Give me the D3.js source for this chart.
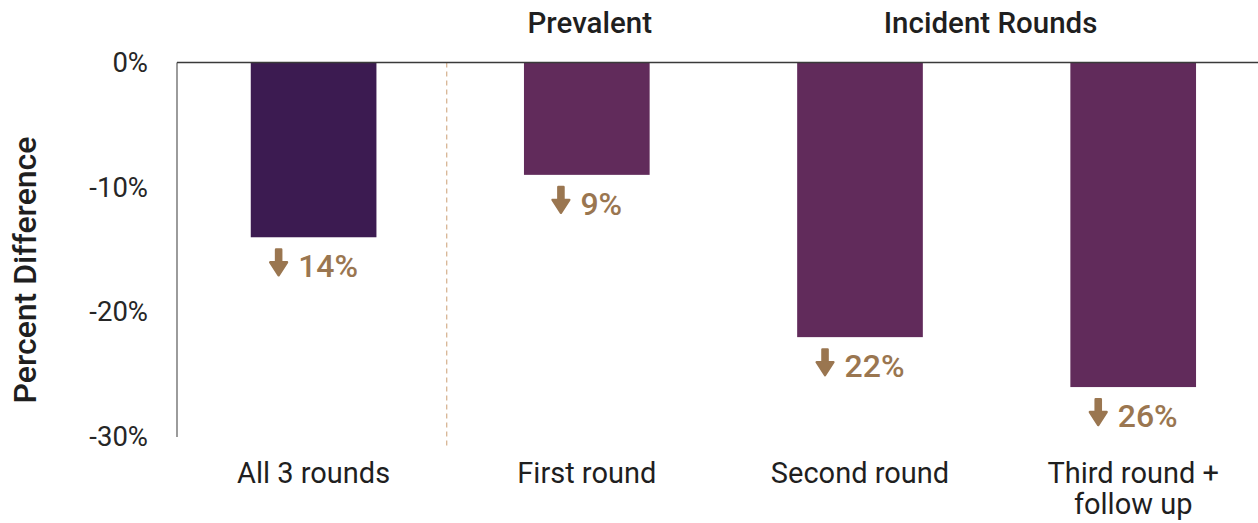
<!DOCTYPE html>
<html>
<head>
<meta charset="utf-8">
<script src="https://cdn.jsdelivr.net/npm/d3@7"></script>
<style>
  html, body { margin: 0; padding: 0; background: #fff; }
  svg { display: block; font-family: Roboto, "Noto Sans", sans-serif; }
</style>
</head>
<body>
<svg id="chart" width="1258" height="523"></svg>
<script>
// Percent difference by screening round
const categories = ["All 3 rounds", "First round", "Second round", "Third round +\nfollow up"];
const values = [-0.14, -0.09, -0.22, -0.26];
const barColors = ["#3c1b51", "#612b5b", "#612b5b", "#612b5b"];
const yTicks = [0, -0.10, -0.20, -0.30];
const groupHeaders = [
  { text: "Prevalent", from: 1, to: 1 },
  { text: "Incident Rounds", from: 2, to: 3 }
];

const svg = d3.select("#chart");
const W = 1258;
const plotLeft = 177, plotTop = 62.5, plotBottom = 437;
const labelColor = "#9a7650";

const x = d3.scaleBand()
  .domain(categories)
  .range([plotLeft, plotLeft + 4 * 273.2])
  .paddingInner(0.54)
  .paddingOuter(0.27);

const y = d3.scaleLinear()
  .domain([-0.30, 0])
  .range([plotBottom, plotTop]);

// y axis tick labels
const yAxis = d3.axisLeft(y)
  .tickValues(yTicks)
  .tickFormat(d => Math.round(d * 100) + "%")
  .tickSize(0)
  .tickPadding(29);
const gy = svg.append("g").attr("transform", `translate(${plotLeft},0)`).call(yAxis);
gy.select(".domain").remove();
gy.selectAll("text")
  .attr("fill", "#262626")
  .style("font-size", "27.5px")
  .style("font-family", "Roboto");

// vertical axis line
svg.append("line")
  .attr("x1", plotLeft).attr("x2", plotLeft)
  .attr("y1", y(0)).attr("y2", y(-0.30))
  .attr("stroke", "#595959").attr("stroke-width", 1.2);

// divider between overall and per-round bars
const divX = (x(categories[0]) + x.bandwidth() + x(categories[1])) / 2 - 3.5;
svg.append("line")
  .attr("x1", divX).attr("x2", divX)
  .attr("y1", y(0)).attr("y2", 446)
  .attr("stroke", "#d8b594").attr("stroke-width", 1.3)
  .attr("stroke-dasharray", "5,4");

// bars
svg.selectAll("rect.bar")
  .data(categories)
  .join("rect")
  .attr("class", "bar")
  .attr("x", d => x(d))
  .attr("width", x.bandwidth())
  .attr("y", y(0))
  .attr("height", (d, i) => y(values[i]) - y(0))
  .attr("fill", (d, i) => barColors[i]);

// zero line
svg.append("line")
  .attr("x1", plotLeft).attr("x2", W)
  .attr("y1", y(0)).attr("y2", y(0))
  .attr("stroke", "#3a3a3a").attr("stroke-width", 1.6);

// value labels: down arrow + magnitude
const lab = svg.selectAll("g.vlabel")
  .data(categories)
  .join("g")
  .attr("class", "vlabel");

lab.each(function (d, i) {
  const g = d3.select(this);
  const topY = y(values[i]) + 11;
  const t = g.append("text")
    .attr("y", topY + 29)
    .attr("fill", labelColor)
    .style("font-size", "32px")
    .style("font-weight", "500")
    .text(Math.round(Math.abs(values[i]) * 100) + "%");
  const tw = t.node().getComputedTextLength();
  const aw = 19, gap = 10;
  const total = aw + gap + tw;
  const cx = x(d) + x.bandwidth() / 2;
  const x0 = cx - total / 2;
  t.attr("x", x0 + aw + gap);
  const ax = x0 + aw / 2;
  // arrow: shaft + head
  g.append("path")
    .attr("d", `M${ax - 2.6},${topY + 1.2} L${ax + 2.6},${topY + 1.2} L${ax + 2.6},${topY + 14} L${ax + 8.4},${topY + 14} L${ax},${topY + 27} L${ax - 8.4},${topY + 14} L${ax - 2.6},${topY + 14} Z`)
    .attr("fill", labelColor)
    .attr("stroke", labelColor)
    .attr("stroke-width", 2.4)
    .attr("stroke-linejoin", "round");
});

// category labels
const catG = svg.selectAll("text.cat")
  .data(categories)
  .join("text")
  .attr("class", "cat")
  .attr("text-anchor", "middle")
  .attr("fill", "#1f1f1f")
  .style("font-size", "29px")
  .attr("x", d => x(d) + x.bandwidth() / 2)
  .attr("y", 483);
catG.each(function (d) {
  const lines = d.split("\n");
  const t = d3.select(this);
  lines.forEach((ln, k) => {
    t.append("tspan")
      .attr("x", x(d) + x.bandwidth() / 2)
      .attr("dy", k === 0 ? 0 : 31)
      .text(ln);
  });
});

// group headers
svg.selectAll("text.hdr")
  .data(groupHeaders)
  .join("text")
  .attr("class", "hdr")
  .attr("text-anchor", "middle")
  .attr("fill", "#1f1f1f")
  .style("font-size", "29.5px")
  .style("font-weight", "500")
  .attr("x", h => {
    const a = x(categories[h.from]) + x.bandwidth() / 2;
    const b = x(categories[h.to]) + x.bandwidth() / 2;
    return (a + b) / 2 - (h.from === h.to ? -3 : 6);
  })
  .attr("y", 33)
  .text(h => h.text);

// y axis title
svg.append("text")
  .attr("transform", `translate(36,270) rotate(-90)`)
  .attr("text-anchor", "middle")
  .attr("fill", "#1f1f1f")
  .style("font-size", "32px")
  .style("font-weight", "500")
  .text("Percent Difference");
</script>
</body>
</html>
